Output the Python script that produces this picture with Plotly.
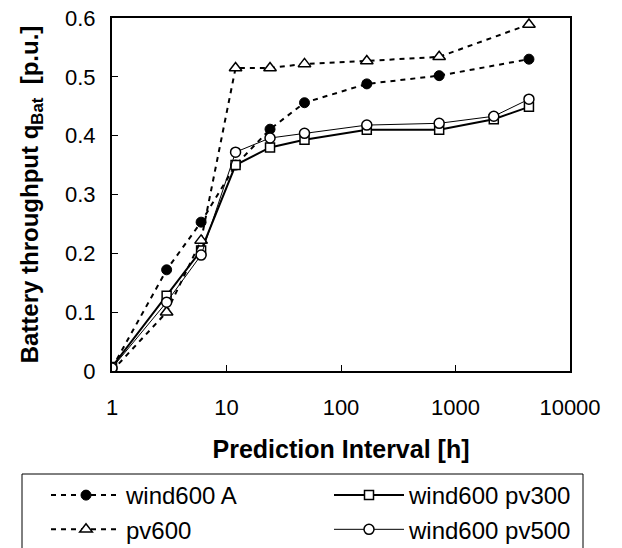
import plotly.graph_objects as go

# Prediction interval [h]
x_all = [1, 3, 6, 12, 24, 48, 168, 720, 2160, 4380]
x_part = [1, 3, 6, 12, 24, 48, 168, 720, 4380]

wind600_A = [0.005, 0.172, 0.253, 0.35, 0.411, 0.456, 0.488, 0.502, 0.530]
pv600 = [0.0, 0.10, 0.222, 0.515, 0.515, 0.522, 0.527, 0.534, 0.589]
wind600_pv300 = [0.007, 0.128, 0.205, 0.35, 0.38, 0.393, 0.41, 0.41, 0.428, 0.449]
wind600_pv500 = [0.005, 0.117, 0.197, 0.372, 0.396, 0.404, 0.418, 0.421, 0.433, 0.462]

x_tickvals = [1, 10, 100, 1000, 10000]
x_ticktext = ["1", "10", "100", "1000", "10000"]
y_tickvals = [0, 0.1, 0.2, 0.3, 0.4, 0.5, 0.6]
y_ticktext = ["0", "0.1", "0.2", "0.3", "0.4", "0.5", "0.6"]

FONT = "Liberation Sans, Arial, sans-serif"

fig = go.Figure()
fig.add_trace(go.Scatter(
    x=x_part, y=wind600_A, name="wind600 A", mode="lines+markers", legend="legend",
    line=dict(color="black", width=2, dash="5px,5px"),
    marker=dict(symbol="circle", size=10, color="black", line=dict(color="black", width=1)),
))
fig.add_trace(go.Scatter(
    x=x_all, y=wind600_pv300, name="wind600 pv300", mode="lines+markers", legend="legend2",
    line=dict(color="black", width=2),
    marker=dict(symbol="square", size=9, color="white", line=dict(color="black", width=1.5)),
))
fig.add_trace(go.Scatter(
    x=x_part, y=pv600, name="pv600", mode="lines+markers", legend="legend",
    line=dict(color="black", width=2, dash="5px,5px"),
    marker=dict(symbol="triangle-up", size=11, color="white", line=dict(color="black", width=1.5)),
))
fig.add_trace(go.Scatter(
    x=x_all, y=wind600_pv500, name="wind600 pv500", mode="lines+markers", legend="legend2",
    line=dict(color="black", width=1),
    marker=dict(symbol="circle", size=10, color="white", line=dict(color="black", width=1.5)),
))

legend_common = dict(
    orientation="v", yanchor="top", xanchor="left",
    itemwidth=70, borderwidth=0, bgcolor="rgba(0,0,0,0)",
    font=dict(family=FONT, size=24, color="black"),
    traceorder="normal",
)

fig.update_layout(
    width=622, height=548,
    margin=dict(l=104, r=60, t=10, b=185, autoexpand=False),
    paper_bgcolor="white", plot_bgcolor="white",
    font=dict(family=FONT, color="black", size=22),
    showlegend=True,
    legend=dict(x=-0.1441, y=-0.289, **legend_common),
    legend2=dict(x=0.4738, y=-0.289, **legend_common),
    shapes=[dict(
        type="rect", xref="paper", yref="paper",
        x0=-0.1965, x1=1.0284, y0=-0.56, y1=-0.2918,
        line=dict(color="black", width=1), fillcolor="rgba(0,0,0,0)", layer="below",
    )],
    xaxis=dict(
        type="log", range=[0, 4],
        tickvals=x_tickvals, ticktext=x_ticktext,
        ticks="inside", ticklen=6, tickwidth=1, tickcolor="black",
        showline=True, linecolor="black", linewidth=2, mirror=True,
        showgrid=False, zeroline=False,
        ticklabelstandoff=16, ticklabeloverflow="allow",
        tickfont=dict(size=22),
        title=dict(text="<b>Prediction Interval [h]</b>", font=dict(size=25), standoff=21),
    ),
    yaxis=dict(
        range=[0, 0.6],
        tickvals=y_tickvals, ticktext=y_ticktext,
        ticks="inside", ticklen=6, tickwidth=1, tickcolor="black",
        showline=True, linecolor="black", linewidth=2, mirror=True,
        showgrid=False, zeroline=False,
        ticklabelstandoff=10, ticklabeloverflow="allow",
        tickfont=dict(size=22),
        title=dict(text="<b>Battery throughput q<sub>Bat</sub>  [p.u.]</b>", font=dict(size=24), standoff=20),
    ),
)

fig.write_html("out.html")
